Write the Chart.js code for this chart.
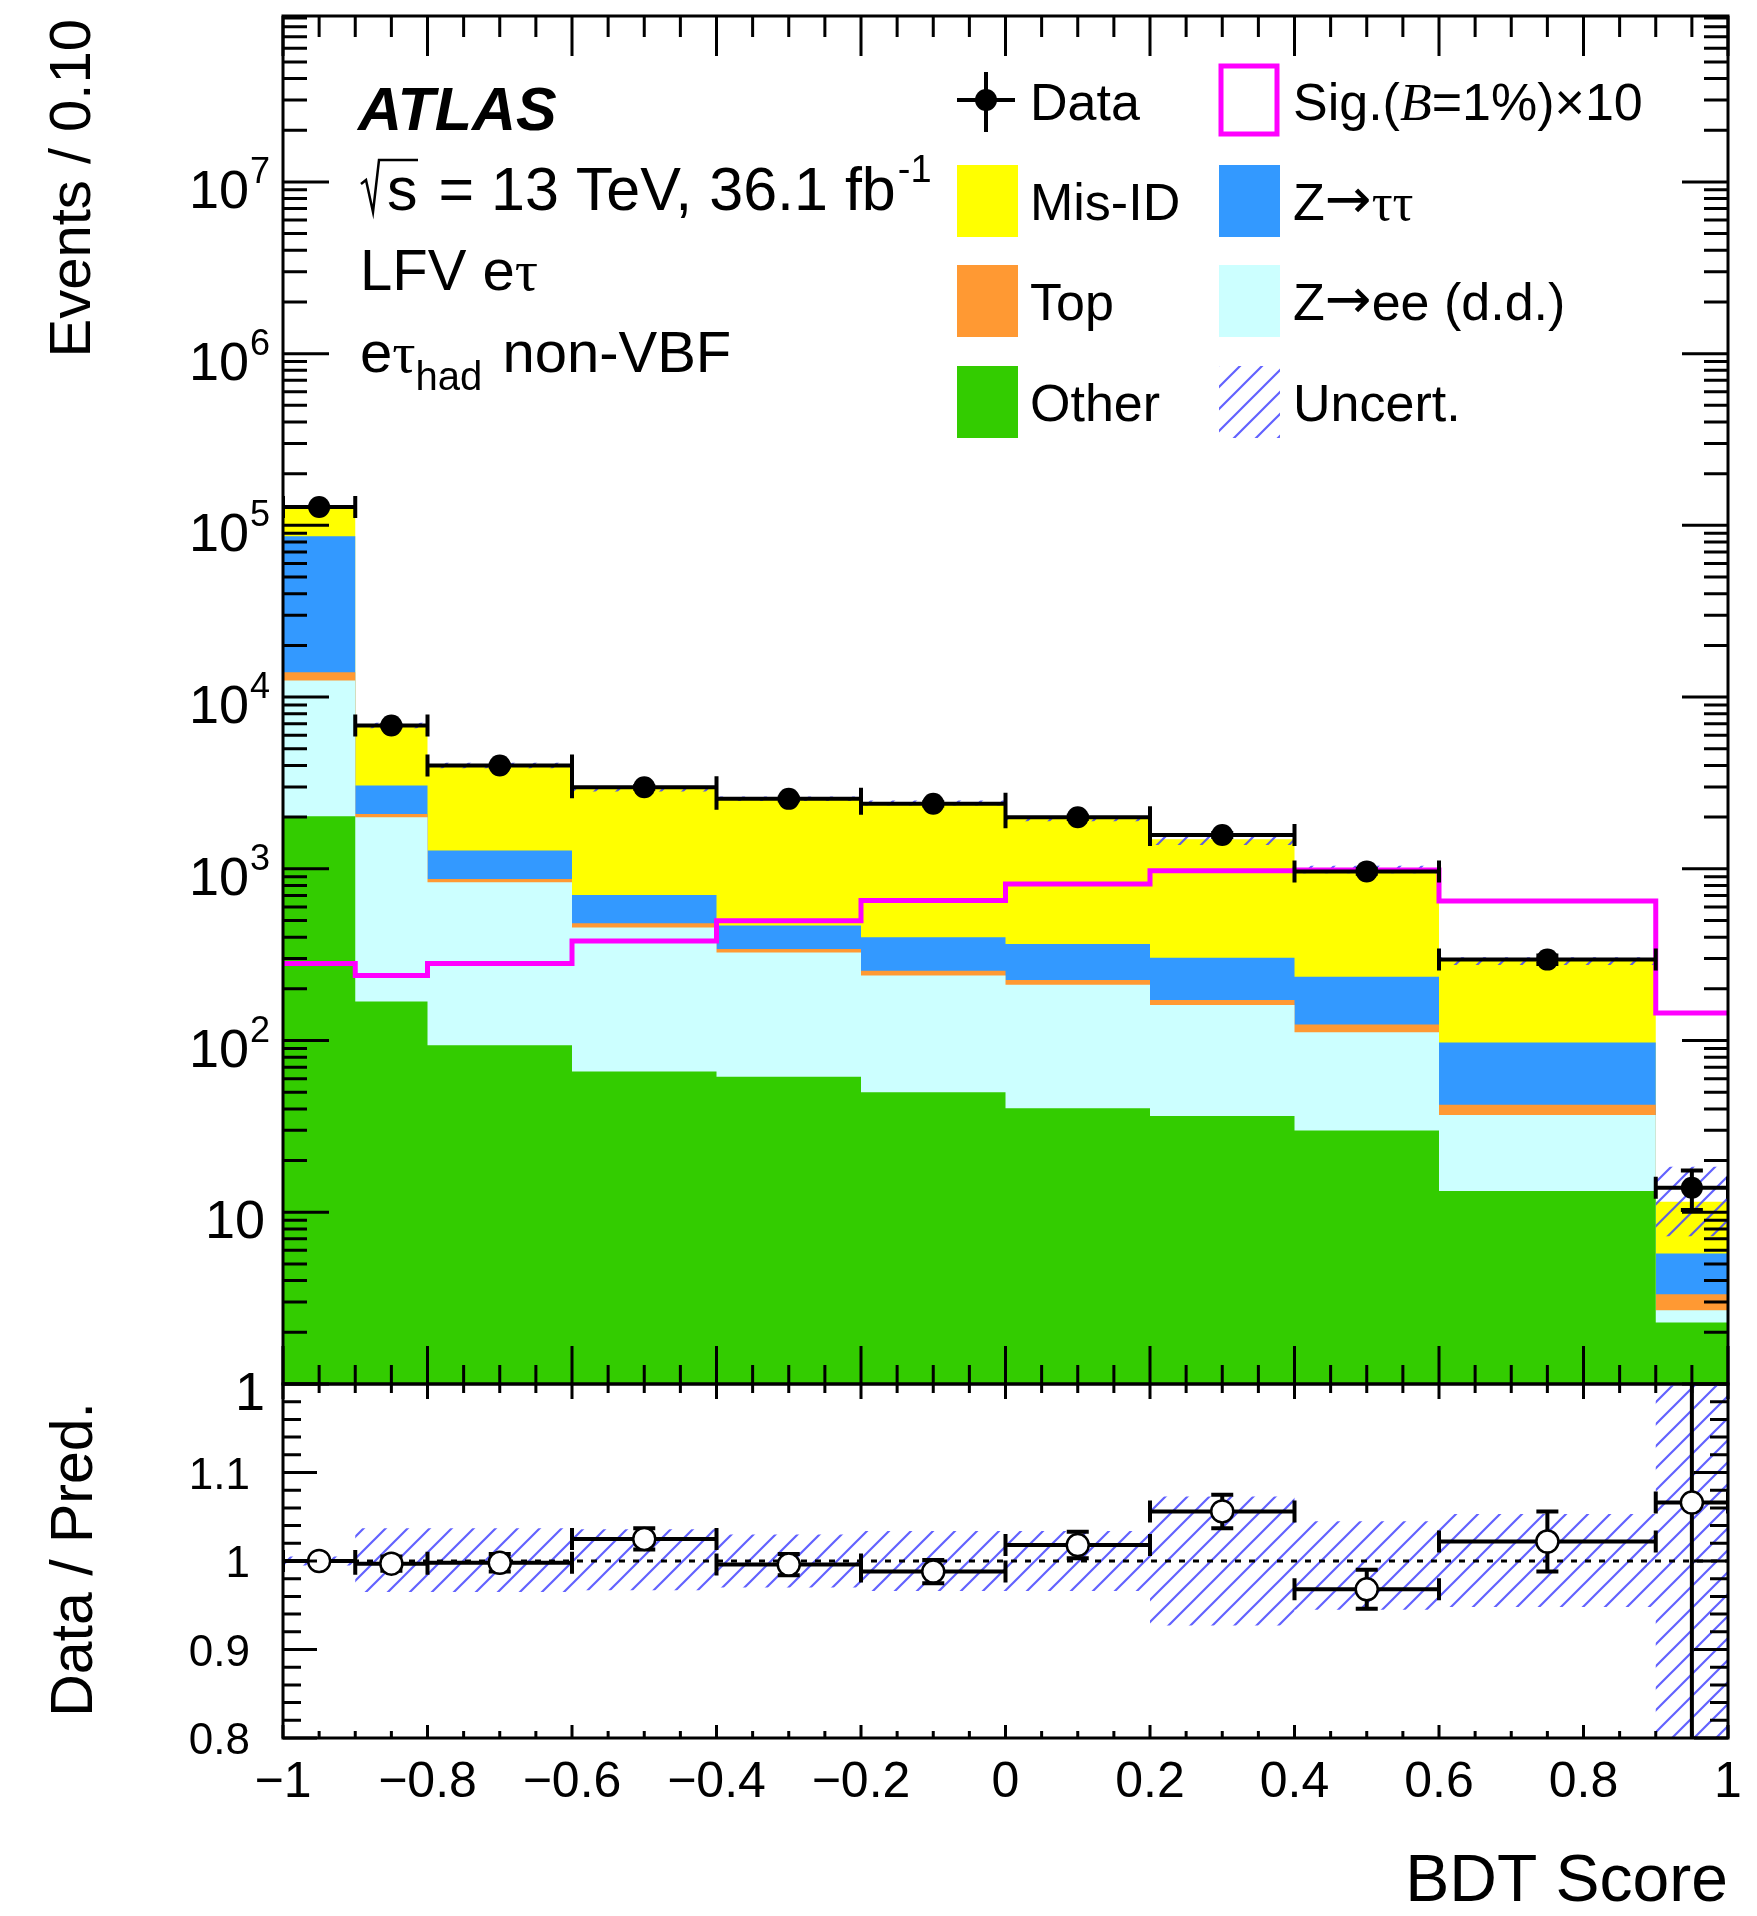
<!DOCTYPE html>
<html>
<head>
<meta charset="utf-8">
<title>LFV e-tau BDT score</title>
<script src="https://cdn.jsdelivr.net/npm/chart.js@4.4.1/dist/chart.umd.min.js"></script>
<style>
  body { margin: 0; background: #fff; }
  #wrap { position: relative; width: 1757px; height: 1916px; }
  #wrap canvas { position: absolute; left: 0; top: 0; }
</style>
</head>
<body>
<div id="wrap">
  <canvas id="mainChart" width="1757" height="1916"></canvas>
  <canvas id="ratioChart" width="1757" height="1916"></canvas>
</div>
<script>
// bin edges of the BDT score histogram
const binEdges = [-1, -0.9, -0.8, -0.6, -0.4, -0.2, 0, 0.2, 0.4, 0.6, 0.9, 1];

// background yields per bin (stack order: bottom first)
const other   = [2023, 169, 94, 66, 61.5, 50, 40.4, 36.3, 29.9, 13.3, 2.28];
const zee     = [10477, 1826, 741, 390, 264.5, 189, 170.6, 125, 82, 23.5, 0.41];
const topBkg  = [1460, 94, 38, 26, 15, 16, 14, 11, 12, 5.5, 0.64];
const ztautau = [72340, 965, 404, 223, 126, 144, 140, 131, 111, 55, 2.42];
const misid   = [41500, 3776, 2716, 2210, 2096, 2020, 1593, 1182, 763, 193, 5.75];

const dataCounts = [127900, 6830, 3993, 2985, 2555, 2390, 1995, 1574, 966, 296, 13.9];
const dataErr    = [358, 83, 63, 55, 51, 49, 45, 40, 31, 17, 3.6];
const signal     = [281, 239, 281, 380, 499, 653, 817, 975, 985, 650, 144.5];

// relative uncertainty of the prediction
const uncUp   = [0.005, 0.037, 0.037, 0.036, 0.03, 0.034, 0.034, 0.073, 0.045, 0.053, 0.6];
const uncDown = [0.005, 0.035, 0.035, 0.033, 0.03, 0.034, 0.034, 0.073, 0.055, 0.052, 0.37];

const ratio    = [1.0, 0.997, 0.998, 1.025, 0.996, 0.988, 1.018, 1.056, 0.968, 1.022, 1.066];
const ratioErr = [0.003, 0.008, 0.01, 0.012, 0.012, 0.013, 0.015, 0.019, 0.022, 0.034, 0.3];

const xTickLabels = [-1, -0.8, -0.6, -0.4, -0.2, 0, 0.2, 0.4, 0.6, 0.8, 1];
const yDecades = [0, 1, 2, 3, 4, 5, 6, 7];
const ratioTickLabels = [0.8, 0.9, 1, 1.1];

const stackNames  = ["Other", "Z→ee (d.d.)", "Top", "Z→ττ", "Mis-ID"];
const stackColors = ["#33cc00", "#ccffff", "#ff9933", "#3399ff", "#ffff00"];

const SANS = '"Liberation Sans", Arial, Helvetica, sans-serif';
const SERIF = '"Liberation Serif", "DejaVu Serif", serif';
const ARROW = '"DejaVu Sans", sans-serif';

// plot frame in page pixels
const L = 283, R = 1728, T = 16, MID = 1384, B = 1738, W = 1757, H = 1916;

function stepPoints(vals) {
    let pts = vals.map((v, i) => ({ x: binEdges[i], y: v }));
    pts.push({ x: binEdges[binEdges.length - 1], y: vals[vals.length - 1] });
    return pts;
}

function binCenters() {
    return binEdges.slice(0, -1).map((e, i) => (e + binEdges[i + 1]) / 2);
}

function makeHatch(ctx) {
    let s = 22;
    let c = document.createElement("canvas");
    c.width = s; c.height = s;
    let g = c.getContext("2d");
    g.strokeStyle = "rgba(70,70,255,0.85)";
    g.lineWidth = 2.2;
    g.beginPath();
    g.moveTo(-2, s + 2); g.lineTo(s + 2, -2);
    g.moveTo(-2, 2); g.lineTo(2, -2);
    g.moveTo(s - 2, s + 2); g.lineTo(s + 2, s - 2);
    g.stroke();
    return ctx.createPattern(c, "repeat");
}

function drawRich(ctx, x, y, parts) {
    for (let p of parts) {
        ctx.font = p[1];
        ctx.fillText(p[0], x, y + (p[2] || 0));
        x += ctx.measureText(p[0]).width;
    }
    return x;
}

function drawRotated(ctx, text, x, y, font) {
    ctx.save();
    ctx.translate(x, y);
    ctx.rotate(-Math.PI / 2);
    ctx.font = font;
    ctx.textAlign = "right";
    ctx.fillText(text, 0, 0);
    ctx.restore();
}

function drawErrorBars(chart, ys, yErr, cap) {
    let ctx = chart.ctx, a = chart.chartArea;
    let xs = chart.scales.x, yscale = chart.scales.y;
    ctx.save();
    ctx.beginPath();
    ctx.rect(a.left, a.top, a.right - a.left, a.bottom - a.top);
    ctx.clip();
    ctx.strokeStyle = "#000";
    ctx.lineWidth = 4;
    ctx.beginPath();
    for (let i = 0; i < ys.length; i++) {
        let x0 = xs.getPixelForValue(binEdges[i]);
        let x1 = xs.getPixelForValue(binEdges[i + 1]);
        let xc = (x0 + x1) / 2;
        let yc = yscale.getPixelForValue(ys[i]);
        let yHi = yscale.getPixelForValue(ys[i] + yErr[i]);
        let yLo = yscale.getPixelForValue(ys[i] - yErr[i]);
        ctx.moveTo(x0, yc); ctx.lineTo(x1, yc);
        ctx.moveTo(x0, yc - cap); ctx.lineTo(x0, yc + cap);
        ctx.moveTo(x1, yc - cap); ctx.lineTo(x1, yc + cap);
        ctx.moveTo(xc, yHi); ctx.lineTo(xc, yLo);
        ctx.moveTo(xc - cap, yHi); ctx.lineTo(xc + cap, yHi);
        ctx.moveTo(xc - cap, yLo); ctx.lineTo(xc + cap, yLo);
    }
    ctx.stroke();
    ctx.restore();
}

function drawXTicks(ctx, xs, yBase, dir, majorLen, minorLen) {
    for (let i = 0; i <= 40; i++) {
        let v = -1 + i * 0.05;
        let len = (i % 4 === 0) ? majorLen : minorLen;
        let px = xs.getPixelForValue(v);
        ctx.moveTo(px, yBase);
        ctx.lineTo(px, yBase + dir * len);
    }
}

// ---- main panel ----
let mainCtx = document.getElementById("mainChart").getContext("2d");
let hatch = makeHatch(mainCtx);

let running = other.map(() => 0);
let cumulative = [other, zee, topBkg, ztautau, misid].map(arr => {
    running = running.map((r, i) => r + arr[i]);
    return running;
});
let total = cumulative[cumulative.length - 1];

let mainDatasets = [];
mainDatasets.push({
    label: "Data", data: binCenters().map((x, i) => ({ x: x, y: dataCounts[i] })),
    showLine: false, pointRadius: 11, pointBackgroundColor: "#000", pointBorderWidth: 0, order: 0
});
mainDatasets.push({
    label: "Signal", data: stepPoints(signal), stepped: true, fill: false,
    borderColor: "#ff00ff", borderWidth: 5, pointRadius: 0, order: 1
});
mainDatasets.push({
    label: "UncHi", data: stepPoints(total.map((t, i) => t * (1 + uncUp[i]))), stepped: true,
    fill: 3, backgroundColor: hatch, borderWidth: 0, borderColor: "rgba(0,0,0,0)", pointRadius: 0, order: 2
});
mainDatasets.push({
    label: "UncLo", data: stepPoints(total.map((t, i) => t * (1 - uncDown[i]))), stepped: true,
    fill: false, borderWidth: 0, borderColor: "rgba(0,0,0,0)", pointRadius: 0, order: 2
});
cumulative.forEach((vals, k) => {
    mainDatasets.push({
        label: stackNames[k], data: stepPoints(vals), stepped: true, fill: "start",
        backgroundColor: stackColors[k], borderWidth: 0, borderColor: "rgba(0,0,0,0)",
        pointRadius: 0, order: 3 + k
    });
});

let mainDecor = {
    id: "mainDecor",
    beforeDatasetDraw(chart, args) {
        if (chart.data.datasets[args.index].label === "Data") {
            drawErrorBars(chart, dataCounts, dataErr, 11);
        }
    },
    afterDraw(chart) {
        let ctx = chart.ctx, a = chart.chartArea;
        let xs = chart.scales.x, ys = chart.scales.y;
        ctx.save();
        ctx.strokeStyle = "#000";
        ctx.lineWidth = 3;
        ctx.beginPath();
        drawXTicks(ctx, xs, a.bottom, -1, 38, 19);
        drawXTicks(ctx, xs, a.top, 1, 40, 21);
        for (let d of yDecades) {
            for (let k = 1; k <= 9; k++) {
                let v = k * Math.pow(10, d);
                if (v > ys.max) break;
                let py = ys.getPixelForValue(v);
                let len = k === 1 ? 46 : 24;
                ctx.moveTo(a.left, py); ctx.lineTo(a.left + len, py);
                ctx.moveTo(a.right, py); ctx.lineTo(a.right - len, py);
            }
        }
        ctx.stroke();
        ctx.strokeRect(a.left, a.top, a.right - a.left, a.bottom - a.top);

        // y tick labels
        ctx.fillStyle = "#000";
        for (let d of yDecades) {
            let py = ys.getPixelForValue(Math.pow(10, d));
            ctx.font = "54px " + SANS;
            ctx.textAlign = "right";
            if (d === 0) {
                ctx.fillText("1", 265, py + 26);
            } else if (d === 1) {
                ctx.fillText("10", 265, py + 26);
            } else {
                ctx.fillText("10", 249, py + 26);
                ctx.font = "36px " + SANS;
                ctx.textAlign = "left";
                ctx.fillText(String(d), 250, py + 1);
            }
        }
        ctx.textAlign = "left";
        drawRotated(ctx, "Events / 0.10", 90, 19, "58px " + SANS);

        // ATLAS label block
        ctx.font = "italic bold 61px " + SANS;
        ctx.fillText("ATLAS", 358, 130);
        ctx.lineWidth = 2.5;
        ctx.beginPath();
        ctx.moveTo(361, 184); ctx.lineTo(366, 180); ctx.lineTo(373, 212);
        ctx.lineTo(379, 160); ctx.lineTo(418, 160);
        ctx.stroke();
        let x = drawRich(ctx, 387, 210, [["s", "61px " + SANS]]);
        x = drawRich(ctx, x + 4, 210, [[" = 13 TeV, 36.1 fb", "61px " + SANS]]);
        drawRich(ctx, x + 2, 182, [["-1", "38px " + SANS]]);
        drawRich(ctx, 360, 290, [["LFV e", "58px " + SANS], ["τ", "58px " + SERIF]]);
        x = drawRich(ctx, 360, 372, [["e", "58px " + SANS], ["τ", "58px " + SERIF]]);
        x = drawRich(ctx, x, 390, [["had", "40px " + SANS]]);
        drawRich(ctx, x + 4, 372, [[" non-VBF", "58px " + SANS]]);

        // legend
        let f = "52px " + SANS;
        ctx.lineWidth = 4;
        ctx.beginPath();
        ctx.moveTo(957, 100); ctx.lineTo(1015, 100);
        ctx.moveTo(986, 72); ctx.lineTo(986, 132);
        ctx.stroke();
        ctx.beginPath();
        ctx.arc(986, 100, 11, 0, 2 * Math.PI);
        ctx.fill();
        drawRich(ctx, 1030, 120, [["Data", f]]);

        ctx.strokeStyle = "#ff00ff";
        ctx.lineWidth = 5;
        ctx.strokeRect(1221, 66, 56, 68);
        drawRich(ctx, 1293, 120, [["Sig.(", f], ["B", "italic 52px " + SERIF], ["=1%)×10", f]]);

        let rows = [
            [957, 165, 4, "Mis-ID"], [1219, 165, 3, "Z→ττ"],
            [957, 265, 2, "Top"], [1219, 265, 1, "Z→ee (d.d.)"],
            [957, 366, 0, "Other"]
        ];
        for (let r of rows) {
            ctx.fillStyle = stackColors[r[2]];
            ctx.fillRect(r[0], r[1], 61, 72);
            ctx.fillStyle = "#000";
            let tx = r[0] === 957 ? 1030 : 1293;
            let by = r[1] + 55;
            if (r[3] === "Z→ττ") {
                drawRich(ctx, tx, by, [["Z", f], ["→", "56px " + ARROW, -2], ["ττ", "52px " + SERIF]]);
            } else if (r[3] === "Z→ee (d.d.)") {
                drawRich(ctx, tx, by, [["Z", f], ["→", "56px " + ARROW, -2], ["ee (d.d.)", f]]);
            } else {
                drawRich(ctx, tx, by, [[r[3], f]]);
            }
        }
        ctx.fillStyle = hatch;
        ctx.fillRect(1219, 366, 61, 72);
        ctx.fillStyle = "#000";
        drawRich(ctx, 1293, 421, [["Uncert.", f]]);
        ctx.restore();
    }
};

new Chart(mainCtx, {
    type: "line",
    data: { datasets: mainDatasets },
    options: {
        responsive: false,
        animation: false,
        devicePixelRatio: 1,
        events: [],
        layout: { padding: { left: L, right: W - R, top: T, bottom: H - MID } },
        scales: {
            x: { type: "linear", min: -1, max: 1, display: false },
            y: { type: "logarithmic", min: 1, max: 9.25e7, display: false }
        },
        plugins: { legend: { display: false }, tooltip: { enabled: false } }
    },
    plugins: [mainDecor]
});

// ---- ratio panel ----
let ratioCtx = document.getElementById("ratioChart").getContext("2d");
let ratioHatch = makeHatch(ratioCtx);

let ratioDatasets = [
    {
        label: "Ratio", data: binCenters().map((x, i) => ({ x: x, y: ratio[i] })),
        showLine: false, pointRadius: 11, pointBackgroundColor: "#fff",
        pointBorderColor: "#000", pointBorderWidth: 2.5, order: 0
    },
    {
        label: "Unity", data: [{ x: -1, y: 1 }, { x: 1, y: 1 }], fill: false,
        borderColor: "#000", borderWidth: 3, borderDash: [6, 8], pointRadius: 0, order: 1
    },
    {
        label: "UncHi", data: stepPoints(uncUp.map(u => 1 + u)), stepped: true, fill: 3,
        backgroundColor: ratioHatch, borderWidth: 0, borderColor: "rgba(0,0,0,0)", pointRadius: 0, order: 2
    },
    {
        label: "UncLo", data: stepPoints(uncDown.map(u => 1 - u)), stepped: true, fill: false,
        borderWidth: 0, borderColor: "rgba(0,0,0,0)", pointRadius: 0, order: 2
    }
];

let ratioDecor = {
    id: "ratioDecor",
    beforeDatasetDraw(chart, args) {
        if (chart.data.datasets[args.index].label === "Ratio") {
            drawErrorBars(chart, ratio, ratioErr, 11);
        }
    },
    afterDraw(chart) {
        let ctx = chart.ctx, a = chart.chartArea;
        let xs = chart.scales.x, ys = chart.scales.y;
        ctx.save();
        ctx.strokeStyle = "#000";
        ctx.lineWidth = 3;
        ctx.beginPath();
        drawXTicks(ctx, xs, a.top, 1, 15, 9);
        drawXTicks(ctx, xs, a.bottom, -1, 13, 7);
        for (let i = 0; i <= 20; i++) {
            let v = 0.8 + i * 0.02;
            let py = ys.getPixelForValue(v);
            let len = (i % 5 === 0) ? 34 : 18;
            ctx.moveTo(a.left, py); ctx.lineTo(a.left + len, py);
            ctx.moveTo(a.right, py); ctx.lineTo(a.right - len, py);
        }
        ctx.stroke();
        ctx.strokeRect(a.left, a.top, a.right - a.left, a.bottom - a.top);

        ctx.fillStyle = "#000";
        ctx.font = "44px " + SANS;
        ctx.textAlign = "right";
        for (let v of ratioTickLabels) {
            ctx.fillText(String(v), 250, ys.getPixelForValue(v) + 16);
        }
        ctx.font = "50px " + SANS;
        ctx.textAlign = "center";
        for (let v of xTickLabels) {
            let txt = v < 0 ? "−" + String(-v) : String(v);
            ctx.fillText(txt, xs.getPixelForValue(v), 1797);
        }
        ctx.font = "66px " + SANS;
        ctx.textAlign = "right";
        ctx.fillText("BDT Score", R, 1901);
        drawRotated(ctx, "Data / Pred.", 92, 1402, "59px " + SANS);
        ctx.restore();
    }
};

new Chart(ratioCtx, {
    type: "line",
    data: { datasets: ratioDatasets },
    options: {
        responsive: false,
        animation: false,
        devicePixelRatio: 1,
        events: [],
        layout: { padding: { left: L, right: W - R, top: MID, bottom: H - B } },
        scales: {
            x: { type: "linear", min: -1, max: 1, display: false },
            y: { type: "linear", min: 0.8, max: 1.2, display: false }
        },
        plugins: { legend: { display: false }, tooltip: { enabled: false } }
    },
    plugins: [ratioDecor]
});
</script>
</body>
</html>
